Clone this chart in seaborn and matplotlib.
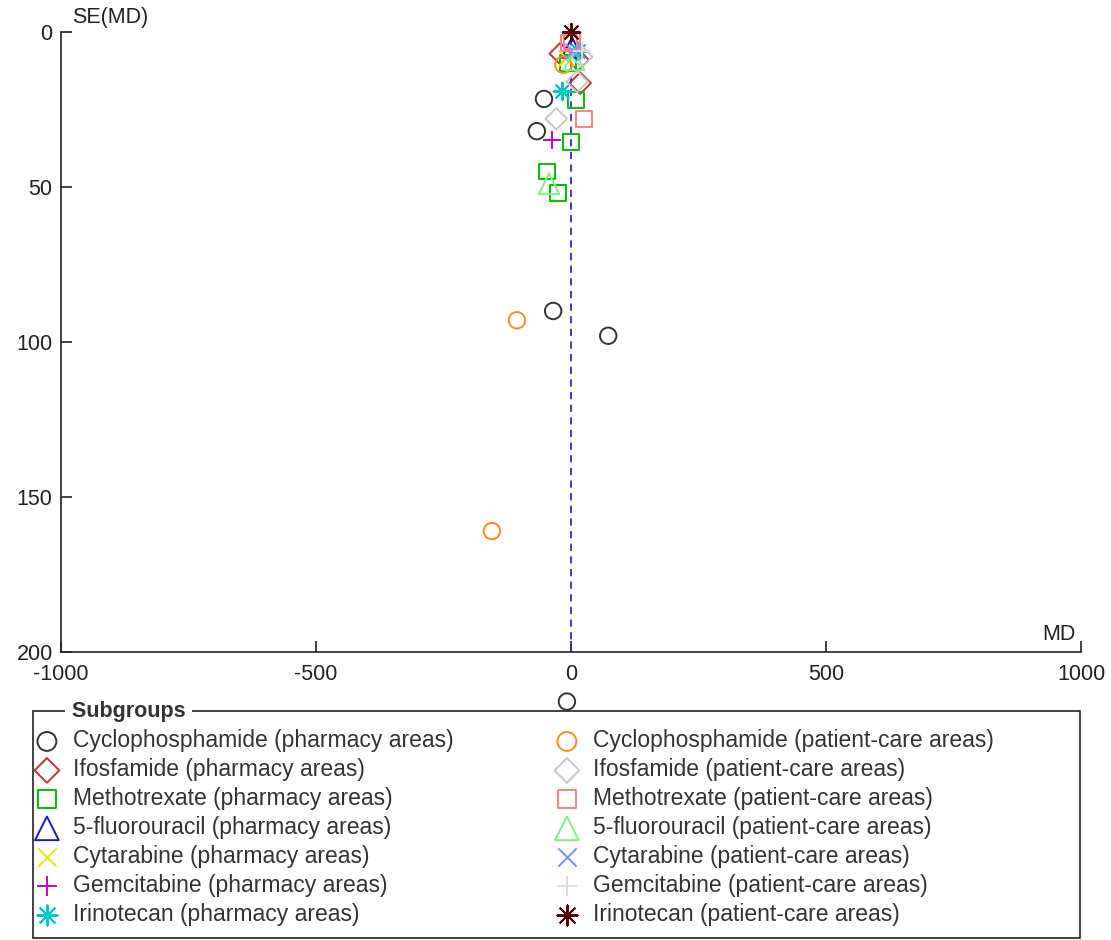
import matplotlib
matplotlib.use("Agg")
import matplotlib.pyplot as plt
import seaborn as sns
from matplotlib.patches import Rectangle

# -------------------------
# 1. Data (MD vs SE(MD))
# -------------------------
groups = [
    "Cyclophosphamide (pharmacy areas)",
    "Ifosfamide (pharmacy areas)",
    "Methotrexate (pharmacy areas)",
    "5-fluorouracil (pharmacy areas)",
    "Cytarabine (pharmacy areas)",
    "Gemcitabine (pharmacy areas)",
    "Irinotecan (pharmacy areas)",
    "Cyclophosphamide (patient-care areas)",
    "Ifosfamide (patient-care areas)",
    "Methotrexate (patient-care areas)",
    "5-fluorouracil (patient-care areas)",
    "Cytarabine (patient-care areas)",
    "Gemcitabine (patient-care areas)",
    "Irinotecan (patient-care areas)",
]

md_values = [
    [-53, -67, -35, 73, -8],      # cyclophosphamide pharmacy
    [-21, 14, 18],                # ifosfamide pharmacy
    [10, 0, -47, -25, -6],        # methotrexate pharmacy
    [2],                          # 5-FU pharmacy
    [-10],                        # cytarabine pharmacy
    [-37],                        # gemcitabine pharmacy
    [-18, 14],                    # irinotecan pharmacy
    [-106, -155, -15],            # cyclophosphamide patient-care
    [-29, 21, 12],                # ifosfamide patient-care
    [25, 2, -4],                  # methotrexate patient-care
    [-43, 6],                     # 5-FU patient-care
    [3],                          # cytarabine patient-care
    [22],                         # gemcitabine patient-care
    [0],                          # irinotecan patient-care
]

se_values = [
    [21.6, 32, 90, 98, 216],
    [7, 9, 16.5],
    [22, 35.5, 45, 52, 10],
    [5],
    [8.5],
    [35],
    [19, 6],
    [93, 161, 10.6],
    [28, 8, 16],
    [28, 3, 3.5],
    [49, 9],
    [6],
    [6],
    [0],
]

colors = [
    "#333333", "#c83232", "#00c000", "#1a1acc", "#e8e800", "#cc00cc", "#00c8c8",
    "#ff8c1a", "#c8c8c8", "#ff8080", "#80f080", "#7f8fff", "#e8d8d8", "#500000",
]
markers = ["o", "D", "s", "^", "x", "+", (8, 2, 0),
           "o", "D", "s", "^", "x", "+", (8, 2, 0)]
sizes = [140, 120, 130, 220, 130, 170, 160,
         140, 120, 130, 220, 130, 170, 160]

plt.rcParams['font.family'] = ['Liberation Sans', 'DejaVu Sans']
plt.rcParams['axes.unicode_minus'] = False

fig = plt.figure(figsize=(11.11, 9.40), dpi=100)
ax = fig.add_axes([0.0549, 0.3064, 0.9181, 0.6596])

handles = []
for name, xs, ys, c, m, s in zip(groups, md_values, se_values, colors, markers, sizes):
    n_before = len(ax.collections)
    if m in ("o", "D", "s", "^"):
        sns.scatterplot(x=xs, y=ys, marker=m, s=s, facecolor="none", edgecolor=c,
                        linewidth=1.4, ax=ax, clip_on=False, zorder=3)
    else:
        sns.scatterplot(x=xs, y=ys, marker=m, s=s, color=c,
                        linewidth=1.4, ax=ax, clip_on=False, zorder=3)
    handles.append(ax.collections[n_before])

ax.axvline(0, color="#2a2ad0", linestyle=(0, (4, 3)), linewidth=1.3, zorder=2)

ax.set_xlim(-1000, 1000)
ax.set_ylim(200, 0)
ax.set_xticks([-1000, -500, 0, 500, 1000])
ax.set_yticks([0, 50, 100, 150, 200])
for side in ["top", "right"]:
    ax.spines[side].set_visible(False)
for side in ["left", "bottom"]:
    ax.spines[side].set_color("#222222")
    ax.spines[side].set_linewidth(1.2)
ax.tick_params(direction="in", length=8, width=1.2, color="#222222",
               labelsize=15.5, labelcolor="#222222")
ax.tick_params(axis="x", pad=9)
ax.tick_params(axis="y", pad=6)
ax.set_xlabel("")
ax.set_ylabel("")

fig.text(0.065, 1 - 17 / 940, "SE(MD)", fontsize=15.5, color="#222222", va="center")
fig.text(0.968, 1 - 635 / 940, "MD", fontsize=15.5, color="#222222", ha="right", va="center")

# -------------------------
# 2. Legend box with title on the frame
# -------------------------
fig.patches.append(Rectangle((33 / 1111, 2 / 940), 1047 / 1111, 227 / 940,
                             transform=fig.transFigure, fill=False,
                             edgecolor="#222222", linewidth=1.2, zorder=1))
fig.text(66 / 1111, 1 - 711 / 940, " Subgroups ", fontsize=15.5, fontweight="bold",
         color="#333333", va="center",
         bbox=dict(facecolor="white", edgecolor="none", pad=0.5), zorder=5)

leg_kw = dict(loc="upper left", frameon=False, fontsize=16.5, handlelength=1.0,
              handletextpad=0.63, labelspacing=0.26, borderpad=0, markerscale=1.15)
leg1 = fig.legend(handles[:7], groups[:7], bbox_to_anchor=(24 / 1111, 1 - 718 / 940), **leg_kw)
leg2 = fig.legend(handles[7:], groups[7:], bbox_to_anchor=(544 / 1111, 1 - 718 / 940), **leg_kw)
for leg in (leg1, leg2):
    for t in leg.get_texts():
        t.set_color("#333333")

fig.savefig("out.png", dpi=100)
